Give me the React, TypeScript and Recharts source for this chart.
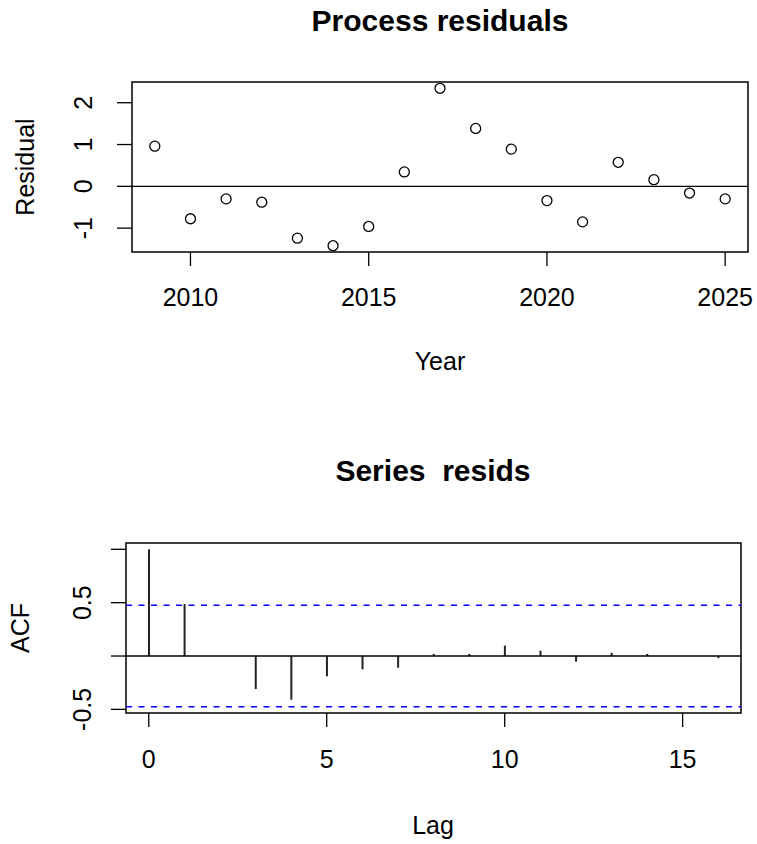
import React from "react"
import {
  ScatterChart,
  Scatter,
  ComposedChart,
  Bar,
  XAxis,
  YAxis,
  ReferenceLine,
  ReferenceArea,
} from "recharts"

const years = [2009, 2010, 2011, 2012, 2013, 2014, 2015, 2016, 2017, 2018, 2019, 2020, 2021, 2022, 2023, 2024, 2025]
const residuals = [0.96, -0.775, -0.3, -0.38, -1.24, -1.42, -0.96, 0.345, 2.345, 1.385, 0.89, -0.34, -0.85, 0.575, 0.16, -0.16, -0.3]
const yearTicks = [2010, 2015, 2020, 2025]
const residTicks = [-1, 0, 1, 2]

const lags = [0, 1, 2, 3, 4, 5, 6, 7, 8, 9, 10, 11, 12, 13, 14, 15, 16]
const acfValues = [1, 0.487, 0, -0.31, -0.41, -0.19, -0.125, -0.11, 0.02, 0.02, 0.097, 0.05, -0.053, 0.03, 0.02, 0, -0.02]
const lagTicks = [0, 5, 10, 15]
const acfTicks = [-0.5, 0, 0.5, 1]
const acfLabels = [-0.5, 0.5]
const ciBound = 0.475

const font = "'Liberation Sans', Arial, sans-serif"
const W = 757

// R style axis range: data range plus 4% each side
function padded(lo: number, hi: number): [number, number] {
  const p = (hi - lo) * 0.04
  return [lo - p, hi + p]
}

const residData = years.map((year, i) => ({ year, resid: residuals[i] }))
const acfData = lags.map((lag, i) => ({ lag, acf: acfValues[i] }))

const yearDomain = padded(Math.min(...years), Math.max(...years))
const residDomain = padded(Math.min(...residuals), Math.max(...residuals))
const lagDomain = padded(Math.min(...lags), Math.max(...lags))
const acfDomain = padded(Math.min(-ciBound, ...acfValues), Math.max(ciBound, ...acfValues))

function RotatedTick(props: any) {
  const { x, y, payload, only } = props
  if (only && !only.includes(payload.value)) return null
  return (
    <text
      x={x}
      y={y}
      dy="0.35em"
      transform={`rotate(-90 ${x} ${y})`}
      textAnchor="middle"
      fill="#000"
      fontSize={25}
      fontFamily={font}
    >
      {payload.value}
    </text>
  )
}

function OpenCircle(props: any) {
  return <circle cx={props.cx} cy={props.cy} r={5} fill="none" stroke="#000" strokeWidth={1.3} />
}

const tickStyle = { fill: "#000", fontSize: 25, fontFamily: font }
const tickLineStyle = { stroke: "#000", strokeWidth: 1.3 }

export default function App() {
  return (
    <div style={{ position: "absolute", left: 0, top: 0, width: W, height: 844, background: "#fff" }}>
      <div style={{ position: "absolute", left: 0, top: 0 }}>
        <ScatterChart width={W} height={422} margin={{ top: 82, right: 9, left: 72, bottom: 110 }}>
          <XAxis
            dataKey="year"
            type="number"
            domain={yearDomain}
            ticks={yearTicks}
            allowDataOverflow
            height={60}
            axisLine={false}
            tickLine={tickLineStyle}
            tickSize={14}
            tickMargin={22}
            tick={tickStyle}
          />
          <YAxis
            dataKey="resid"
            type="number"
            domain={residDomain}
            ticks={residTicks}
            allowDataOverflow
            width={60}
            axisLine={false}
            tickLine={tickLineStyle}
            tickSize={15}
            tickMargin={34}
            tick={<RotatedTick />}
          />
          <ReferenceArea
            x1={yearDomain[0]}
            x2={yearDomain[1]}
            y1={residDomain[0]}
            y2={residDomain[1]}
            fill="none"
            stroke="#000"
            strokeWidth={1.5}
            ifOverflow="visible"
          />
          <ReferenceLine y={0} stroke="#000" strokeWidth={1.3} />
          <Scatter data={residData} shape={<OpenCircle />} isAnimationActive={false} />
        </ScatterChart>
      </div>

      <div style={{ position: "absolute", left: 0, top: 422 }}>
        <ComposedChart width={W} height={422} data={acfData} margin={{ top: 121, right: 16, left: 66, bottom: 71 }}>
          <XAxis
            dataKey="lag"
            type="number"
            domain={lagDomain}
            ticks={lagTicks}
            allowDataOverflow
            height={60}
            axisLine={false}
            tickLine={tickLineStyle}
            tickSize={14}
            tickMargin={23}
            tick={tickStyle}
          />
          <YAxis
            type="number"
            domain={acfDomain}
            ticks={acfTicks}
            allowDataOverflow
            width={60}
            axisLine={false}
            tickLine={tickLineStyle}
            tickSize={15}
            tickMargin={29}
            tick={<RotatedTick only={acfLabels} />}
          />
          <ReferenceArea
            x1={lagDomain[0]}
            x2={lagDomain[1]}
            y1={acfDomain[0]}
            y2={acfDomain[1]}
            fill="none"
            stroke="#000"
            strokeWidth={1.5}
            ifOverflow="visible"
          />
          <ReferenceLine y={0} stroke="#000" strokeWidth={1.3} />
          <ReferenceLine y={ciBound} stroke="#0000ff" strokeWidth={1.6} strokeDasharray="6 6.5" />
          <ReferenceLine y={-ciBound} stroke="#0000ff" strokeWidth={1.6} strokeDasharray="6 6.5" />
          <Bar dataKey="acf" barSize={2} fill="#222" isAnimationActive={false} />
        </ComposedChart>
      </div>

      <svg
        width={W}
        height={844}
        style={{ position: "absolute", left: 0, top: 0, pointerEvents: "none" }}
        fontFamily={font}
      >
        <text x={440} y={31} textAnchor="middle" fontSize={30} fontWeight="bold" fill="#000">
          Process residuals
        </text>
        <text x={440} y={370} textAnchor="middle" fontSize={25} fill="#000">
          Year
        </text>
        <text x={25} y={167} dy="0.35em" transform="rotate(-90 25 167)" textAnchor="middle" fontSize={25} fill="#000">
          Residual
        </text>
        <text
          x={433}
          y={481}
          textAnchor="middle"
          fontSize={30}
          fontWeight="bold"
          fill="#000"
          style={{ whiteSpace: "pre" }}
        >
          {"Series  resids"}
        </text>
        <text x={433} y={834} textAnchor="middle" fontSize={25} fill="#000">
          Lag
        </text>
        <text x={20} y={628} dy="0.35em" transform="rotate(-90 20 628)" textAnchor="middle" fontSize={25} fill="#000">
          ACF
        </text>
      </svg>
    </div>
  )
}
